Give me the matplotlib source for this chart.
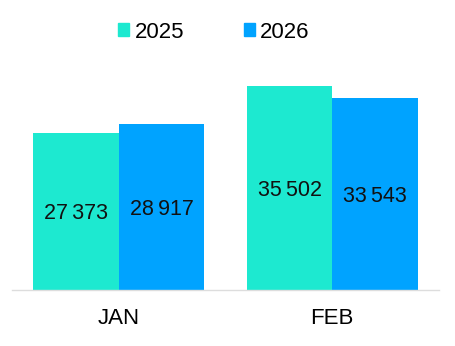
import matplotlib.pyplot as plt
from matplotlib.patches import Patch
import numpy as np

months = ['JAN', 'FEB']
years = ['2025', '2026']
v2025 = [27373, 35502]
v2026 = [28917, 33543]
colors = ['#1de9d0', '#00a3ff']

plt.rcParams['font.family'] = ['Liberation Sans', 'DejaVu Sans']

fig = plt.figure(figsize=(4.56, 3.46), dpi=100)
ax = fig.add_axes([12/456, 56/346, 427/456, 245/346])

x = np.arange(len(months))
w = 0.4
for off, vals, c in [(-w/2, v2025, colors[0]), (w/2, v2026, colors[1])]:
    bars = ax.bar(x + off, vals, width=w, color=c)
    for b, v in zip(bars, vals):
        s = f'{v:,}'.replace(',', '\u2009')
        ax.text(b.get_x() + b.get_width()/2, v/2, s, ha='center', va='center_baseline',
                fontsize=15.5, color='#111111')

ax.set_xlim(-0.5, 1.5)
ax.set_ylim(0, 42700)
ax.set_xticks(x)
ax.set_xticklabels(months, fontsize=16)
ax.tick_params(length=0, pad=13)
ax.set_yticks([])
for s in ['top', 'left', 'right']:
    ax.spines[s].set_visible(False)
ax.spines['bottom'].set_color('#dddddd')
ax.spines['bottom'].set_linewidth(1)

handles = [Patch(color=c) for c in colors]
fig.legend(handles, years, loc='center', bbox_to_anchor=(214/456, 1 - 32/346),
           ncol=2, frameon=False, fontsize=16, handlelength=0.5, handleheight=0.5,
           handletextpad=0.23, columnspacing=2.7)

fig.savefig('out.png', dpi=100)
